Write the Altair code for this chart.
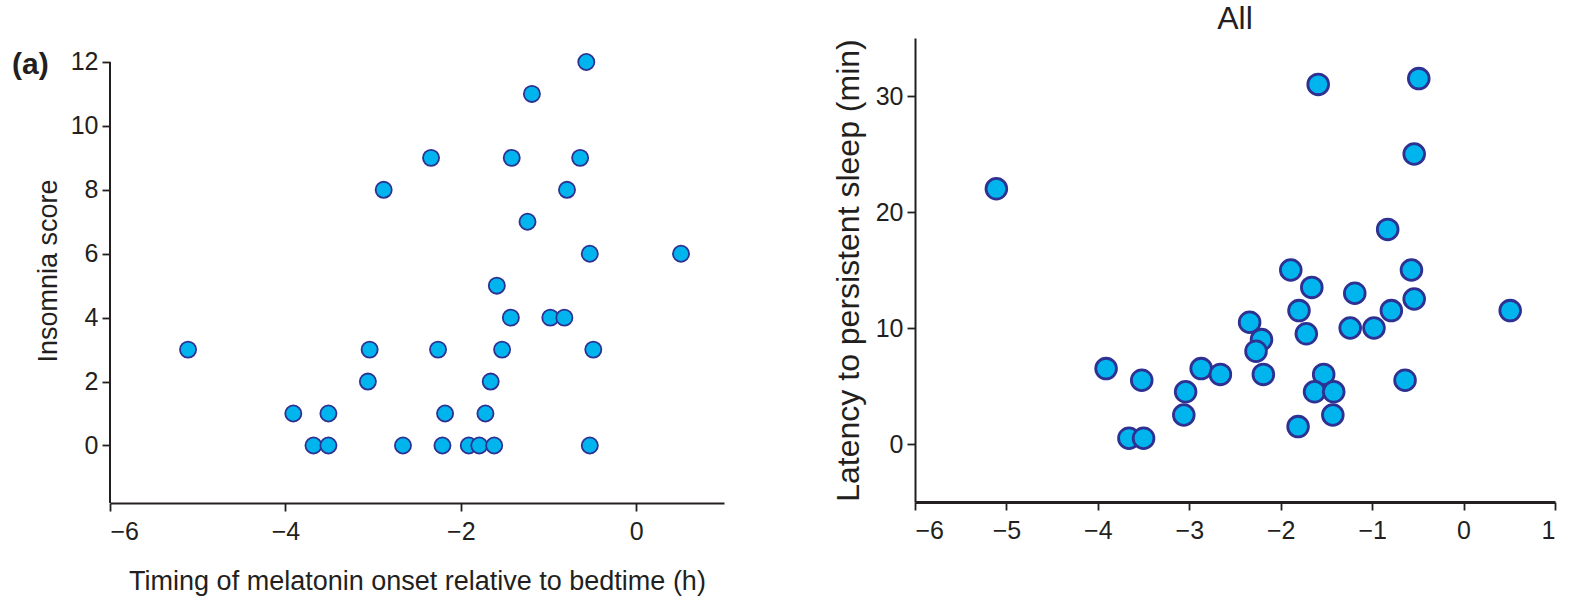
import altair as alt
import pandas as pd

# Left panel: insomnia score vs melatonin onset timing
left_x = [-0.57, -1.19, -2.34, -1.42, -0.64, -2.88, -0.79, -1.24, -0.53, 0.51, -1.59,
          -1.43, -0.98, -0.82, -5.11, -3.04, -2.26, -1.53, -0.49, -3.06, -1.66,
          -3.91, -3.51, -2.18, -1.72, -3.68, -3.51, -2.66, -2.21, -1.91, -1.79, -1.62, -0.53]
left_y = [12, 11, 9, 9, 9, 8, 8, 7, 6, 6, 5,
          4, 4, 4, 3, 3, 3, 3, 3, 2, 2,
          1, 1, 1, 1, 0, 0, 0, 0, 0, 0, 0, 0]

# Right panel: latency to persistent sleep vs melatonin onset timing
right_x = [-1.59, -0.49, -0.54, -5.11, -0.83, -1.89, -0.57, -1.66, -1.19, -0.54,
           -1.80, -0.79, 0.51, -2.34, -1.24, -0.98, -1.72, -2.21, -2.27,
           -3.91, -2.87, -2.66, -2.19, -1.53, -3.52, -0.64, -3.04, -1.63, -1.42,
           -3.06, -1.43, -1.81, -3.66, -3.50]
right_y = [31, 31.5, 25, 22, 18.5, 15, 15, 13.5, 13, 12.5,
           11.5, 11.5, 11.5, 10.5, 10, 10, 9.5, 9, 8,
           6.5, 6.5, 6, 6, 6, 5.5, 5.5, 4.5, 4.5, 4.5,
           2.5, 2.5, 1.5, 0.5, 0.5]

left_ticks_x = [-6, -4, -2, 0]
left_ticks_y = [0, 2, 4, 6, 8, 10, 12]
left_axis_span = [-1.8, 12]   # extent of the drawn y-axis line
right_ticks_x = [-6, -5, -4, -3, -2, -1, 0, 1]
right_ticks_y = [0, 10, 20, 30]

FILL = "#00B4EE"
STROKE = "#2E3192"
FONT = "Liberation Sans"
TXT = "#231F20"

df_l = pd.DataFrame({"x": left_x, "y": left_y})
df_r = pd.DataFrame({"x": right_x, "y": right_y})

common_axis = dict(grid=False, domainColor=TXT, tickColor=TXT, labelColor=TXT, titleColor=TXT,
                   labelFont=FONT, titleFont=FONT, titleFontWeight="normal", tickSize=8,
                   tickWidth=1.8, labelFontSize=25)

lx_scale = alt.Scale(domain=[-6, 1], nice=False, zero=False)
ly_scale = alt.Scale(domain=[-1.8, 12.75], nice=False, zero=False)

left_pts = alt.Chart(df_l).mark_circle(
    size=260, color=FILL, opacity=1, stroke=STROKE, strokeWidth=1.8
).encode(
    x=alt.X("x:Q", scale=lx_scale,
            axis=alt.Axis(values=left_ticks_x, title="Timing of melatonin onset relative to bedtime (h)",
                          titleFontSize=27, titlePadding=24, labelPadding=8, domainWidth=2,
                          format="~g", **common_axis)),
    y=alt.Y("y:Q", scale=ly_scale,
            axis=alt.Axis(values=left_ticks_y, title="Insomnia score", domain=False,
                          titleFontSize=27, titlePadding=8, labelPadding=4,
                          **common_axis)),
)

axis_line = alt.Chart(pd.DataFrame({"x": [-6], "y": [left_axis_span[1]], "y2": [left_axis_span[0]]})).mark_rule(
    color=TXT, strokeWidth=2
).encode(x=alt.X("x:Q", scale=lx_scale), y=alt.Y("y:Q", scale=ly_scale), y2="y2:Q")

label_a = alt.Chart(pd.DataFrame({"t": ["(a)"]})).mark_text(
    fontSize=30, fontWeight="bold", font=FONT, color=TXT, align="left", baseline="middle"
).encode(text="t:N", x=alt.value(-98), y=alt.value(27))

left = alt.layer(left_pts, axis_line, label_a).properties(width=614, height=465)

right = alt.Chart(df_r).mark_circle(
    size=430, color=FILL, opacity=1, stroke=STROKE, strokeWidth=2.8
).encode(
    x=alt.X("x:Q", scale=alt.Scale(domain=[-6, 1], nice=False, zero=False),
            axis=alt.Axis(values=right_ticks_x, title=None, labelPadding=8,
                          domainWidth=3, format="~g", **common_axis)),
    y=alt.Y("y:Q", scale=alt.Scale(domain=[-5, 35], nice=False, zero=False),
            axis=alt.Axis(values=right_ticks_y, title="Latency to persistent sleep (min)",
                          titleFontSize=32, titlePadding=10, labelPadding=4, domainWidth=2,
                          **common_axis)),
).properties(width=640, height=464, title=alt.TitleParams("All", fontSize=32, font=FONT,
                                                           fontWeight="normal", color=TXT, offset=2))

chart = alt.hconcat(left, right, spacing=108).configure_view(stroke=None).properties(
    padding={"left": 12, "top": 3, "right": 10, "bottom": 5})

chart.save("out.html", embed_options={"renderer": "svg", "actions": False})
